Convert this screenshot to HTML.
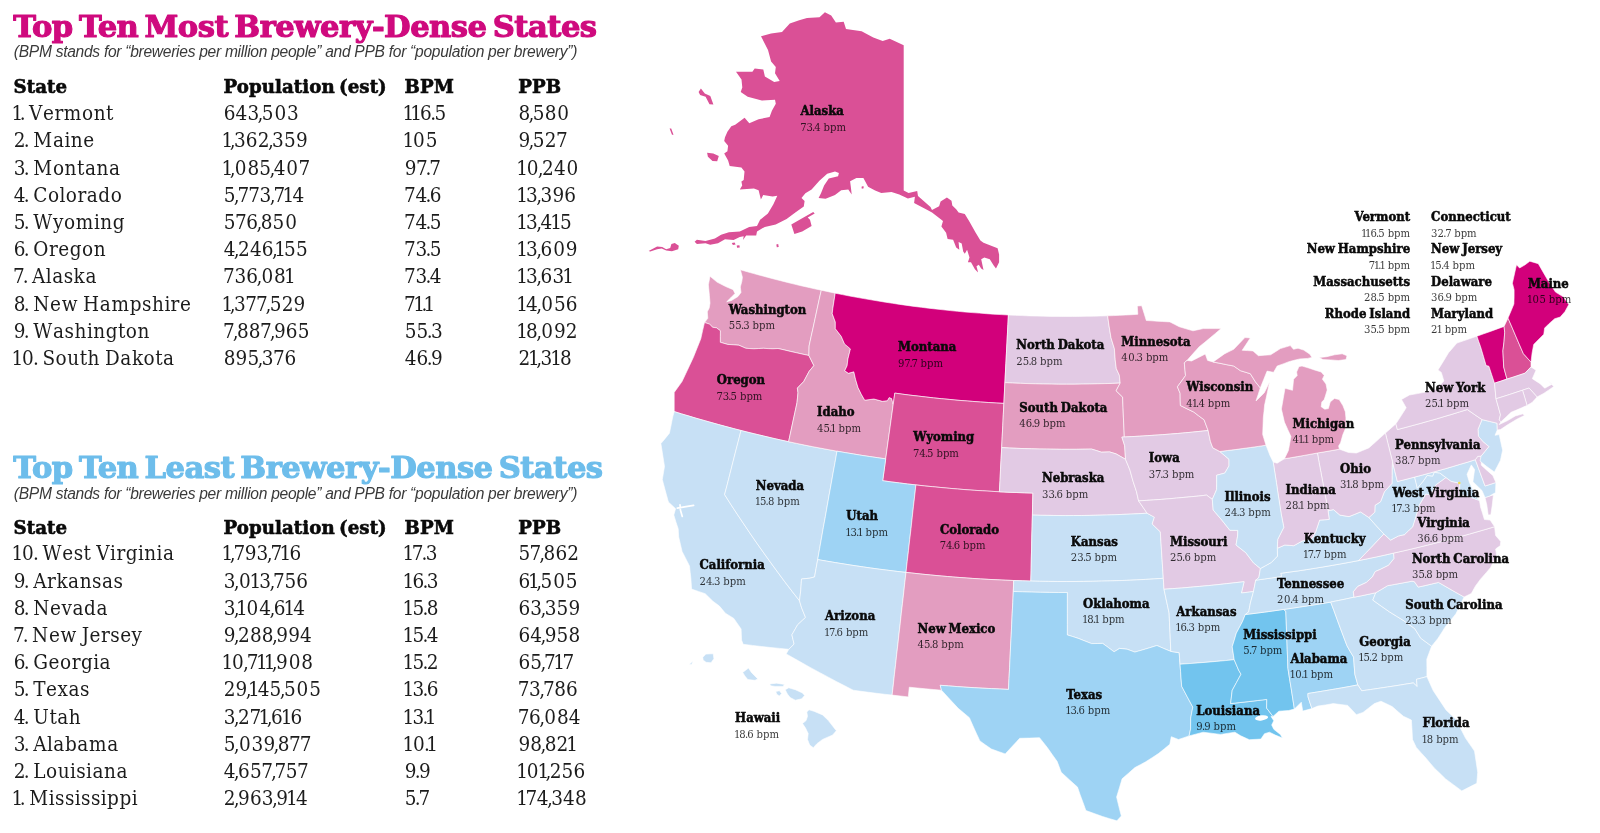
<!DOCTYPE html>
<html><head><meta charset="utf-8"><title>Brewery-Dense States</title><style>html,body{margin:0;padding:0;background:#fff}svg{display:block}
text{font-family:"DejaVu Serif Condensed","DejaVu Serif","Liberation Serif",serif;font-stretch:condensed;fill:#111}
.n{font-weight:bold;font-size:13px;word-spacing:-1.2px;fill:#0a0a0a;stroke:#0a0a0a;stroke-width:.5px}
.b{font-size:11.2px;fill:#000;fill-opacity:.78}
.t{font-family:"DejaVu Serif","Liberation Serif",serif;font-stretch:normal;font-weight:bold;font-size:30.6px;letter-spacing:-.5px;word-spacing:-4px;stroke-width:1.15px;stroke-linejoin:round}
.s{font-family:"Liberation Sans","DejaVu Sans",sans-serif;font-stretch:normal;font-style:italic;font-size:15.6px;letter-spacing:-.29px;fill:#3a3a3a}
.h{font-family:"DejaVu Serif","Liberation Serif",serif;font-stretch:normal;font-weight:bold;font-size:18.2px;letter-spacing:.05px;word-spacing:-2px;fill:#0a0a0a;stroke:#0a0a0a;stroke-width:.6px}
.r{font-size:20.5px;fill:#1c1c1c}</style></head><body>
<svg width="1600" height="833" viewBox="0 0 1600 833">
<defs><filter id="aa" x="0" y="0" width="1600" height="833" filterUnits="userSpaceOnUse" color-interpolation-filters="sRGB"><feColorMatrix type="saturate" values="1"/></filter></defs>
<rect width="1600" height="833" fill="#fff"/>
<g stroke="#fff" stroke-opacity=".6" stroke-width="1" stroke-linejoin="round">
<path d="M704.5,322.5L707.8,318.3L707.3,311.8L709.2,308.0L710.0,303.2L709.4,295.6L708.4,284.8L710.0,276.2L717.0,282.1L725.6,286.5L733.2,289.7L735.0,293.5L730.5,298.0L726.7,301.8L731.5,300.5L738.0,296.5L741.0,292.4L740.3,287.0L741.8,281.6L742.4,277.3L740.4,269.8L747.1,271.7L753.8,273.6L760.5,275.4L767.2,277.2L773.9,279.0L780.7,280.7L787.4,282.4L794.2,284.1L800.9,285.7L807.7,287.2L814.5,288.8L821.3,290.2L819.2,299.5L817.2,308.8L815.2,318.1L813.2,327.4L811.1,336.7L809.1,346.0L808.9,355.5L802.8,354.2L796.6,352.8L790.4,351.4L784.2,349.9L778.0,348.5L772.9,348.8L768.2,348.6L763.5,348.3L758.7,348.5L753.8,348.8L745.9,348.3L738.8,345.2L733.2,344.8L727.7,344.4L720.3,342.3L720.3,336.5L720.4,330.8L716.5,327.8L712.6,327.3L709.6,324.1Z" fill="#e39dc0"/>
<path d="M704.5,322.5L702.6,330.6L700.8,338.8L697.1,348.0L693.4,357.3L689.6,365.4L685.8,373.5L682.0,381.6L678.1,387.0L674.2,392.4L674.2,402.0L674.2,411.6L681.6,413.9L689.0,416.1L696.3,418.3L703.8,420.4L711.2,422.5L718.6,424.6L726.1,426.6L733.5,428.6L741.0,430.5L748.9,432.5L756.8,434.4L764.8,436.3L772.7,438.2L780.7,440.0L788.6,441.7L790.7,432.0L792.8,422.2L794.9,412.5L797.0,402.8L798.0,392.8L797.4,388.1L803.7,381.6L809.1,371.4L813.9,365.6L808.9,355.5L802.8,354.2L796.6,352.8L790.4,351.4L784.2,349.9L778.0,348.5L772.9,348.8L768.2,348.6L763.5,348.3L758.7,348.5L753.8,348.8L745.9,348.3L738.8,345.2L733.2,344.8L727.7,344.4L720.3,342.3L720.3,336.5L720.4,330.8L716.5,327.8L712.6,327.3L709.6,324.1Z" fill="#da5096"/>
<path d="M674.2,411.6L672.7,416.9L671.1,425.1L669.4,433.3L665.2,438.4L660.9,443.6L662.7,455.0L664.5,466.4L663.4,473.0L662.3,479.5L665.3,490.8L668.4,502.0L675.6,508.7L673.8,515.0L675.9,521.9L678.2,528.8L678.7,536.9L680.4,544.2L682.1,551.5L685.8,558.7L689.5,566.0L690.2,572.4L690.9,578.8L691.6,589.1L698.4,591.4L705.2,593.7L712.9,601.2L719.4,606.1L725.4,613.2L733.8,618.4L741.1,629.0L741.6,640.2L743.2,644.3L752.3,645.4L761.5,646.5L770.6,647.5L779.7,648.4L788.8,649.3L794.1,644.1L791.9,634.8L797.6,624.8L805.5,617.4L801.6,607.8L799.5,600.8L792.2,591.4L784.9,581.9L777.8,572.3L770.8,562.7L763.9,553.1L757.1,543.5L750.4,533.8L743.8,524.0L737.3,514.3L730.9,504.5L724.6,494.6L727.4,484.0L730.1,473.3L732.8,462.6L735.5,451.9L738.3,441.2L741.0,430.5L733.5,428.6L726.1,426.6L718.6,424.6L711.2,422.5L703.8,420.4L696.3,418.3L689.0,416.1L681.6,413.9Z" fill="#c7e0f5"/>
<path d="M741.0,430.5L748.9,432.5L756.8,434.4L764.8,436.3L772.7,438.2L780.7,440.0L788.6,441.7L796.7,443.4L804.7,445.1L812.8,446.7L820.8,448.2L828.9,449.7L837.0,451.2L835.1,462.1L833.1,472.9L831.2,483.8L829.2,494.7L827.3,505.5L825.4,516.4L823.4,527.2L821.5,538.0L819.6,548.8L817.7,559.6L816.1,568.3L814.6,576.9L809.8,578.2L801.5,579.0L800.8,589.9L799.5,600.8L792.2,591.4L784.9,581.9L777.8,572.3L770.8,562.7L763.9,553.1L757.1,543.5L750.4,533.8L743.8,524.0L737.3,514.3L730.9,504.5L724.6,494.6L727.4,484.0L730.1,473.3L732.8,462.6L735.5,451.9L738.3,441.2Z" fill="#c7e0f5"/>
<path d="M821.3,290.2L828.3,291.7L835.2,293.2L832.8,308.6L832.2,313.6L835.3,322.0L835.3,328.7L841.2,336.3L844.5,343.9L850.4,348.9L847.9,359.0L847.1,365.7L844.7,370.8L848.4,373.3L853.8,371.8L855.5,379.2L858.0,387.6L861.3,394.3L864.7,400.2L873.9,399.0L882.4,401.3L887.4,400.7L889.1,397.6L891.6,398.5L893.2,404.5L891.7,415.4L890.2,426.3L888.7,437.1L887.2,448.0L885.7,458.9L877.6,457.7L869.4,456.5L861.3,455.3L853.2,453.9L845.1,452.6L837.0,451.2L828.9,449.7L820.8,448.2L812.8,446.7L804.7,445.1L796.7,443.4L788.6,441.7L790.7,432.0L792.8,422.2L794.9,412.5L797.0,402.8L798.0,392.8L797.4,388.1L803.7,381.6L809.1,371.4L813.9,365.6L808.9,355.5L809.1,346.0L811.1,336.7L813.2,327.4L815.2,318.1L817.2,308.8L819.2,299.5Z" fill="#e39dc0"/>
<path d="M835.2,293.2L842.4,294.6L849.5,296.0L856.7,297.3L863.8,298.6L871.0,299.8L878.2,301.0L885.4,302.2L892.6,303.3L899.8,304.4L907.0,305.4L914.2,306.4L921.4,307.3L928.6,308.2L935.8,309.0L943.1,309.8L950.3,310.6L957.6,311.3L964.8,312.0L972.1,312.6L979.3,313.1L986.6,313.7L993.8,314.2L1001.1,314.6L1008.4,315.0L1007.9,324.6L1007.4,334.3L1006.9,343.9L1006.4,353.6L1005.9,363.3L1005.4,372.9L1004.9,382.6L1004.4,393.0L1003.9,403.4L996.1,403.0L988.3,402.5L980.4,402.0L972.6,401.4L964.8,400.8L957.0,400.2L949.2,399.4L941.4,398.7L933.7,397.9L925.9,397.0L918.1,396.1L910.3,395.2L902.6,394.2L894.8,393.1L894.0,398.8L893.2,404.5L891.6,398.5L889.1,397.6L887.4,400.7L882.4,401.3L873.9,399.0L864.7,400.2L861.3,394.3L858.0,387.6L855.5,379.2L853.8,371.8L848.4,373.3L844.7,370.8L847.1,365.7L847.9,359.0L850.4,348.9L844.5,343.9L841.2,336.3L835.3,328.7L835.3,322.0L832.2,313.6L832.8,308.6Z" fill="#d2007b"/>
<path d="M893.2,404.5L894.0,398.8L894.8,393.1L902.6,394.2L910.3,395.2L918.1,396.1L925.9,397.0L933.7,397.9L941.4,398.7L949.2,399.4L957.0,400.2L964.8,400.8L972.6,401.4L980.4,402.0L988.3,402.5L996.1,403.0L1003.9,403.4L1003.3,414.5L1002.8,425.5L1002.2,436.6L1001.7,447.6L1001.1,458.7L1000.5,469.7L1000.0,480.7L999.4,491.8L991.1,491.3L982.7,490.8L974.3,490.3L966.0,489.7L957.6,489.0L949.3,488.3L940.9,487.5L932.6,486.7L924.2,485.9L915.9,484.9L907.6,484.0L899.3,482.9L891.0,481.9L882.7,480.7L884.2,469.8L885.7,458.9L887.2,448.0L888.7,437.1L890.2,426.3L891.7,415.4Z" fill="#da5096"/>
<path d="M837.0,451.2L845.1,452.6L853.2,453.9L861.3,455.3L869.4,456.5L877.6,457.7L885.7,458.9L884.2,469.8L882.7,480.7L891.0,481.9L899.3,482.9L907.6,484.0L915.9,484.9L914.7,495.9L913.4,506.9L912.2,517.8L911.0,528.8L909.7,539.7L908.5,550.6L907.2,561.5L906.0,572.4L897.1,571.4L888.3,570.3L879.4,569.2L870.6,568.0L861.7,566.7L852.9,565.4L844.1,564.0L835.3,562.6L826.4,561.1L817.7,559.6L819.6,548.8L821.5,538.0L823.4,527.2L825.4,516.4L827.3,505.5L829.2,494.7L831.2,483.8L833.1,472.9L835.1,462.1Z" fill="#9ed3f4"/>
<path d="M915.9,484.9L924.2,485.9L932.6,486.7L940.9,487.5L949.3,488.3L957.6,489.0L966.0,489.7L974.3,490.3L982.7,490.8L991.1,491.3L999.4,491.8L1007.8,492.2L1016.2,492.5L1024.5,492.8L1032.9,493.1L1032.6,504.1L1032.4,515.1L1032.1,526.1L1031.8,537.1L1031.6,548.1L1031.3,559.1L1031.1,570.1L1030.8,581.1L1022.3,580.8L1013.7,580.5L1005.4,580.2L997.1,579.8L988.8,579.4L980.5,578.9L972.2,578.4L963.9,577.8L955.6,577.2L947.4,576.5L939.1,575.8L930.8,575.0L922.5,574.2L914.3,573.3L906.0,572.4L907.2,561.5L908.5,550.6L909.7,539.7L911.0,528.8L912.2,517.8L913.4,506.9L914.7,495.9Z" fill="#da5096"/>
<path d="M817.7,559.6L826.4,561.1L835.3,562.6L844.1,564.0L852.9,565.4L861.7,566.7L870.6,568.0L879.4,569.2L888.3,570.3L897.1,571.4L906.0,572.4L904.8,582.7L903.7,593.0L902.5,603.3L901.3,613.5L900.2,623.8L899.0,634.0L897.9,644.2L896.7,654.4L895.6,664.6L894.4,674.8L893.3,685.0L892.1,695.1L884.3,694.2L876.5,693.3L868.8,692.3L861.0,691.3L853.2,690.2L844.7,685.8L836.2,681.4L827.8,676.9L819.4,672.4L811.0,667.9L802.7,663.2L794.5,658.6L786.2,653.9L788.8,649.3L794.1,644.1L791.9,634.8L797.6,624.8L805.5,617.4L801.6,607.8L799.5,600.8L800.8,589.9L801.5,579.0L809.8,578.2L814.6,576.9L816.1,568.3Z" fill="#c7e0f5"/>
<path d="M906.0,572.4L914.3,573.3L922.5,574.2L930.8,575.0L939.1,575.8L947.4,576.5L955.6,577.2L963.9,577.8L972.2,578.4L980.5,578.9L988.8,579.4L997.1,579.8L1005.4,580.2L1013.7,580.5L1013.3,591.5L1012.8,602.4L1012.2,613.3L1011.7,624.3L1011.2,635.2L1010.6,646.0L1010.1,656.9L1009.6,667.7L1009.0,678.6L1008.5,689.4L999.9,689.0L991.4,688.6L982.9,688.2L974.3,687.7L965.8,687.2L957.3,686.6L948.7,685.9L940.2,685.3L941.5,690.2L933.5,689.5L925.4,688.8L917.3,688.0L909.3,687.2L908.3,696.9L900.2,696.0L892.1,695.1L893.3,685.0L894.4,674.8L895.6,664.6L896.7,654.4L897.9,644.2L899.0,634.0L900.2,623.8L901.3,613.5L902.5,603.3L903.7,593.0L904.8,582.7Z" fill="#e39dc0"/>
<path d="M1008.4,315.0L1015.4,315.3L1022.5,315.6L1029.6,315.9L1036.7,316.1L1043.8,316.2L1050.9,316.4L1058.0,316.4L1065.1,316.5L1072.2,316.5L1079.2,316.4L1086.3,316.3L1093.4,316.2L1100.5,316.0L1107.6,315.8L1109.2,326.8L1111.0,337.8L1114.4,348.7L1115.2,359.8L1116.3,368.6L1119.3,375.1L1120.2,383.1L1112.6,383.4L1104.9,383.6L1097.2,383.8L1089.5,384.0L1081.8,384.1L1074.1,384.2L1066.4,384.2L1058.7,384.2L1051.1,384.1L1043.4,384.0L1035.7,383.8L1028.0,383.6L1020.3,383.3L1012.6,383.0L1004.9,382.6L1005.4,372.9L1005.9,363.3L1006.4,353.6L1006.9,343.9L1007.4,334.3L1007.9,324.6Z" fill="#e2cae4"/>
<path d="M1004.9,382.6L1012.6,383.0L1020.3,383.3L1028.0,383.6L1035.7,383.8L1043.4,384.0L1051.1,384.1L1058.7,384.2L1066.4,384.2L1074.1,384.2L1081.8,384.1L1089.5,384.0L1097.2,383.8L1104.9,383.6L1112.6,383.4L1120.2,383.1L1116.1,390.8L1122.6,397.1L1123.0,407.1L1123.4,417.1L1123.9,427.0L1124.3,437.0L1121.9,437.1L1124.7,445.8L1125.1,452.5L1125.5,459.3L1120.8,456.6L1116.1,453.9L1109.5,451.9L1101.4,452.2L1096.5,450.6L1091.6,449.1L1084.1,449.2L1076.6,449.3L1069.1,449.3L1061.6,449.3L1054.1,449.2L1046.6,449.1L1039.1,449.0L1031.6,448.8L1024.1,448.6L1016.6,448.3L1009.1,448.0L1001.7,447.6L1002.2,436.6L1002.8,425.5L1003.3,414.5L1003.9,403.4L1004.4,393.0Z" fill="#e39dc0"/>
<path d="M1001.7,447.6L1009.1,448.0L1016.6,448.3L1024.1,448.6L1031.6,448.8L1039.1,449.0L1046.6,449.1L1054.1,449.2L1061.6,449.3L1069.1,449.3L1076.6,449.3L1084.1,449.2L1091.6,449.1L1096.5,450.6L1101.4,452.2L1109.5,451.9L1116.1,453.9L1120.8,456.6L1125.5,459.3L1129.9,469.9L1132.9,480.8L1136.5,491.7L1138.6,500.9L1142.9,507.1L1147.1,513.2L1138.9,513.7L1130.7,514.1L1122.6,514.4L1114.4,514.8L1106.2,515.0L1098.0,515.2L1089.8,515.4L1081.6,515.5L1073.4,515.5L1065.2,515.6L1057.0,515.5L1048.8,515.4L1040.6,515.3L1032.4,515.1L1032.6,504.1L1032.9,493.1L1024.5,492.8L1016.2,492.5L1007.8,492.2L999.4,491.8L1000.0,480.7L1000.5,469.7L1001.1,458.7Z" fill="#e2cae4"/>
<path d="M1032.4,515.1L1040.6,515.3L1048.8,515.4L1057.0,515.5L1065.2,515.6L1073.4,515.5L1081.6,515.5L1089.8,515.4L1098.0,515.2L1106.2,515.0L1114.4,514.8L1122.6,514.4L1130.7,514.1L1138.9,513.7L1147.1,513.2L1154.4,517.2L1152.2,524.0L1160.3,531.8L1160.9,541.1L1161.5,550.5L1162.1,559.8L1162.7,569.0L1163.3,578.3L1154.5,578.9L1145.6,579.4L1136.8,579.9L1128.0,580.3L1119.2,580.6L1110.3,580.9L1101.5,581.1L1092.7,581.3L1083.8,581.4L1075.0,581.5L1066.2,581.5L1057.3,581.5L1048.5,581.4L1039.7,581.3L1030.8,581.1L1031.1,570.1L1031.3,559.1L1031.6,548.1L1031.8,537.1L1032.1,526.1Z" fill="#c7e0f5"/>
<path d="M1030.8,581.1L1039.7,581.3L1048.5,581.4L1057.3,581.5L1066.2,581.5L1075.0,581.5L1083.8,581.4L1092.7,581.3L1101.5,581.1L1110.3,580.9L1119.2,580.6L1128.0,580.3L1136.8,579.9L1145.6,579.4L1154.5,578.9L1163.3,578.3L1164.0,589.3L1165.7,597.2L1167.4,605.1L1169.1,613.0L1169.5,622.6L1170.0,632.2L1170.4,641.8L1170.8,651.4L1163.8,648.5L1156.9,645.5L1149.6,647.8L1142.2,650.0L1134.8,652.1L1127.1,649.2L1119.6,648.4L1114.1,651.8L1108.4,647.6L1102.7,643.4L1097.1,643.5L1091.5,643.6L1084.9,641.0L1078.4,638.4L1072.8,636.6L1067.3,634.9L1067.3,624.3L1067.3,613.7L1067.3,603.1L1067.3,592.5L1058.3,592.5L1049.3,592.4L1040.3,592.3L1031.3,592.1L1022.3,591.8L1013.3,591.5L1013.7,580.5L1022.3,580.8Z" fill="#c7e0f5"/>
<path d="M1013.3,591.5L1022.3,591.8L1031.3,592.1L1040.3,592.3L1049.3,592.4L1058.3,592.5L1067.3,592.5L1067.3,603.1L1067.3,613.7L1067.3,624.3L1067.3,634.9L1072.8,636.6L1078.4,638.4L1084.9,641.0L1091.5,643.6L1097.1,643.5L1102.7,643.4L1108.4,647.6L1114.1,651.8L1119.6,648.4L1127.1,649.2L1134.8,652.1L1142.2,650.0L1149.6,647.8L1156.9,645.5L1163.8,648.5L1170.8,651.4L1179.2,652.7L1179.6,658.5L1180.0,664.2L1180.6,671.6L1181.1,678.9L1181.7,686.3L1187.2,696.7L1192.8,707.1L1190.7,718.1L1190.6,728.9L1189.1,735.9L1183.8,737.7L1178.5,739.5L1171.3,736.7L1169.8,744.3L1164.1,749.0L1158.4,753.6L1152.1,757.7L1145.7,761.8L1140.3,764.7L1134.9,767.6L1128.5,773.2L1122.1,778.8L1119.4,787.9L1116.6,797.1L1118.9,806.6L1121.3,816.0L1116.9,820.8L1109.7,818.7L1102.6,816.5L1094.2,813.5L1085.9,810.5L1083.1,802.7L1080.2,794.9L1077.5,787.1L1069.3,779.7L1061.2,772.2L1057.2,761.5L1052.2,754.5L1047.3,747.5L1039.5,737.7L1029.6,738.1L1019.7,738.3L1012.5,746.1L1005.2,753.9L998.3,751.5L991.4,749.0L985.6,745.0L979.9,740.9L976.3,733.2L972.8,725.5L969.4,717.7L963.8,713.0L958.2,708.3L949.8,699.3L941.5,690.2L940.2,685.3L948.7,685.9L957.3,686.6L965.8,687.2L974.3,687.7L982.9,688.2L991.4,688.6L999.9,689.0L1008.5,689.4L1009.0,678.6L1009.6,667.7L1010.1,656.9L1010.6,646.0L1011.2,635.2L1011.7,624.3L1012.2,613.3L1012.8,602.4Z" fill="#9ed3f4"/>
<path d="M1107.6,315.8L1113.6,315.6L1119.7,315.3L1125.7,315.0L1131.8,314.7L1137.8,314.3L1137.3,306.0L1141.7,305.7L1144.0,313.1L1146.3,320.5L1151.7,320.8L1157.1,321.2L1162.5,321.5L1169.9,321.9L1174.5,324.3L1179.2,326.7L1186.1,328.8L1193.0,330.8L1198.1,329.7L1203.2,328.6L1209.1,328.6L1215.1,328.6L1221.1,328.6L1215.7,333.2L1210.2,337.8L1204.8,342.3L1199.2,346.8L1193.1,353.6L1187.0,360.4L1184.3,362.8L1184.9,369.2L1185.5,375.6L1181.5,381.2L1177.4,386.8L1180.1,393.3L1180.2,399.4L1180.4,405.5L1187.0,408.8L1193.7,412.0L1198.8,415.9L1204.1,419.8L1208.1,430.5L1200.5,431.3L1192.9,432.1L1185.3,432.8L1177.7,433.5L1170.1,434.1L1162.5,434.7L1154.8,435.2L1147.2,435.7L1139.6,436.2L1131.9,436.6L1124.3,437.0L1123.9,427.0L1123.4,417.1L1123.0,407.1L1122.6,397.1L1116.1,390.8L1120.2,383.1L1119.3,375.1L1116.3,368.6L1115.2,359.8L1114.4,348.7L1111.0,337.8L1109.2,326.8Z" fill="#e39dc0"/>
<path d="M1124.3,437.0L1131.9,436.6L1139.6,436.2L1147.2,435.7L1154.8,435.2L1162.5,434.7L1170.1,434.1L1177.7,433.5L1185.3,432.8L1192.9,432.1L1200.5,431.3L1208.1,430.5L1210.4,441.4L1212.8,447.8L1219.8,451.5L1229.0,459.3L1229.0,465.9L1224.8,473.1L1216.7,475.2L1216.7,483.0L1216.6,489.6L1212.3,499.4L1206.5,495.1L1199.0,496.0L1191.5,496.7L1183.9,497.4L1176.4,498.1L1168.9,498.8L1161.3,499.4L1153.7,499.9L1146.2,500.4L1138.6,500.9L1136.5,491.7L1132.9,480.8L1129.9,469.9L1125.5,459.3L1125.1,452.5L1124.7,445.8L1121.9,437.1Z" fill="#e2cae4"/>
<path d="M1138.6,500.9L1146.2,500.4L1153.7,499.9L1161.3,499.4L1168.9,498.8L1176.4,498.1L1183.9,497.4L1191.5,496.7L1199.0,496.0L1206.5,495.1L1212.3,499.4L1213.2,510.0L1221.8,520.1L1229.9,530.3L1237.8,530.4L1237.6,536.0L1236.0,545.0L1245.8,552.7L1253.4,562.8L1260.4,568.5L1258.9,577.5L1255.7,580.2L1253.5,591.5L1247.5,592.3L1241.4,593.0L1244.1,581.7L1235.2,582.7L1226.3,583.7L1217.4,584.7L1208.5,585.6L1199.6,586.4L1190.7,587.2L1181.8,588.0L1172.9,588.6L1164.0,589.3L1163.3,578.3L1162.7,569.0L1162.1,559.8L1161.5,550.5L1160.9,541.1L1160.3,531.8L1152.2,524.0L1154.4,517.2L1147.1,513.2L1142.9,507.1Z" fill="#e2cae4"/>
<path d="M1164.0,589.3L1172.9,588.6L1181.8,588.0L1190.7,587.2L1199.6,586.4L1208.5,585.6L1217.4,584.7L1226.3,583.7L1235.2,582.7L1244.1,581.7L1241.4,593.0L1247.5,592.3L1253.5,591.5L1250.4,602.9L1248.7,611.9L1245.3,614.5L1242.5,621.5L1236.3,633.2L1234.3,640.0L1232.2,646.8L1233.2,653.2L1234.2,659.7L1225.2,660.6L1216.2,661.4L1207.1,662.2L1198.1,662.9L1189.1,663.6L1180.0,664.2L1179.6,658.5L1179.2,652.7L1170.8,651.4L1170.4,641.8L1170.0,632.2L1169.5,622.6L1169.1,613.0L1167.4,605.1L1165.7,597.2Z" fill="#c7e0f5"/>
<path d="M1180.0,664.2L1189.1,663.6L1198.1,662.9L1207.1,662.2L1216.2,661.4L1225.2,660.6L1234.2,659.7L1238.6,670.1L1241.0,674.2L1236.6,682.3L1232.2,690.4L1231.4,697.0L1230.6,703.6L1239.7,702.6L1248.7,701.6L1257.8,700.5L1266.8,699.4L1266.6,708.1L1273.0,716.4L1271.0,716.4L1273.8,720.7L1271.7,725.0L1273.8,729.3L1280.3,734.4L1282.5,738.0L1275.3,735.1L1269.5,732.2L1264.5,733.7L1260.9,739.1L1249.3,739.7L1240.7,735.8L1234.9,732.2L1220.5,734.4L1203.2,732.2L1189.1,735.9L1190.6,728.9L1190.7,718.1L1192.8,707.1L1187.2,696.7L1181.7,686.3L1181.1,678.9L1180.6,671.6Z" fill="#72c4ee"/>
<path d="M1245.3,614.5L1253.0,613.6L1260.7,612.6L1268.3,611.6L1276.0,610.5L1283.6,609.4L1285.8,611.3L1286.2,620.8L1286.5,630.3L1286.9,639.7L1287.2,649.2L1287.6,658.7L1287.9,668.1L1289.5,678.4L1291.2,688.6L1292.8,698.8L1294.4,709.1L1288.7,710.5L1278.9,711.2L1273.0,716.4L1266.6,708.1L1266.8,699.4L1257.8,700.5L1248.7,701.6L1239.7,702.6L1230.6,703.6L1231.4,697.0L1232.2,690.4L1236.6,682.3L1241.0,674.2L1238.6,670.1L1234.2,659.7L1233.2,653.2L1232.2,646.8L1234.3,640.0L1236.3,633.2L1242.5,621.5Z" fill="#72c4ee"/>
<path d="M1283.6,609.4L1291.5,608.3L1299.4,607.1L1307.2,605.9L1315.1,604.7L1322.9,603.4L1330.7,602.1L1334.0,610.8L1337.2,619.6L1340.4,628.3L1343.7,637.1L1347.0,645.8L1350.2,651.5L1353.6,657.1L1354.2,665.8L1354.9,674.5L1357.8,684.9L1349.5,686.5L1341.2,688.0L1332.9,689.4L1324.6,690.8L1316.2,692.2L1307.9,693.5L1308.0,696.8L1309.9,702.7L1311.9,708.6L1302.7,711.1L1301.3,702.2L1294.4,709.1L1292.8,698.8L1291.2,688.6L1289.5,678.4L1287.9,668.1L1287.6,658.7L1287.2,649.2L1286.9,639.7L1286.5,630.3L1286.2,620.8L1285.8,611.3Z" fill="#9ed3f4"/>
<path d="M1255.7,580.2L1264.3,579.0L1272.9,577.8L1281.5,576.5L1280.7,573.3L1289.3,572.1L1298.0,570.9L1306.7,569.6L1315.3,568.2L1324.0,566.8L1332.6,565.3L1341.2,563.8L1349.9,562.2L1358.5,560.6L1367.3,558.8L1376.1,557.0L1384.9,555.1L1393.6,553.1L1394.1,558.4L1388.6,565.3L1380.3,569.4L1375.2,571.6L1372.6,576.7L1366.3,582.5L1357.8,586.4L1353.3,591.8L1354.0,597.2L1346.3,598.9L1338.5,600.5L1330.7,602.1L1322.9,603.4L1315.1,604.7L1307.2,605.9L1299.4,607.1L1291.5,608.3L1283.6,609.4L1276.0,610.5L1268.3,611.6L1260.7,612.6L1253.0,613.6L1245.3,614.5L1248.7,611.9L1250.4,602.9L1253.5,591.5Z" fill="#c7e0f5"/>
<path d="M1260.4,568.5L1265.9,565.5L1271.3,562.5L1277.5,556.1L1277.3,548.3L1284.8,545.0L1293.8,545.7L1302.0,541.1L1307.1,539.6L1312.2,538.2L1315.6,532.0L1319.6,520.1L1324.4,519.8L1329.2,519.4L1328.1,510.7L1333.5,509.6L1339.9,515.1L1349.0,516.6L1354.8,514.3L1360.5,511.9L1368.9,517.5L1376.3,525.8L1383.9,534.0L1377.6,540.7L1371.3,547.4L1364.9,554.0L1358.5,560.6L1349.9,562.2L1341.2,563.8L1332.6,565.3L1324.0,566.8L1315.3,568.2L1306.7,569.6L1298.0,570.9L1289.3,572.1L1280.7,573.3L1281.5,576.5L1272.9,577.8L1264.3,579.0L1255.7,580.2L1258.9,577.5Z" fill="#c7e0f5"/>
<path d="M1330.7,602.1L1338.5,600.5L1346.3,598.9L1354.0,597.2L1361.3,595.8L1368.5,594.3L1375.8,592.7L1372.8,600.1L1381.2,606.1L1389.7,612.0L1396.3,616.1L1403.0,620.2L1414.7,628.6L1420.8,638.3L1431.6,646.2L1429.2,652.7L1426.8,659.2L1426.9,667.9L1426.9,676.6L1421.7,678.0L1416.5,679.3L1417.2,686.6L1413.3,682.9L1404.7,684.3L1396.1,685.7L1387.5,687.0L1378.9,688.3L1370.3,689.6L1361.7,690.8L1357.8,684.9L1354.9,674.5L1354.2,665.8L1353.6,657.1L1350.2,651.5L1347.0,645.8L1343.7,637.1L1340.4,628.3L1337.2,619.6L1334.0,610.8Z" fill="#c7e0f5"/>
<path d="M1426.9,676.6L1430.1,683.8L1433.3,690.8L1439.7,700.4L1446.0,709.9L1451.0,714.7L1456.1,719.5L1460.8,728.8L1465.5,738.1L1470.0,744.6L1474.5,751.1L1476.1,761.7L1477.7,772.2L1476.8,783.3L1469.3,787.1L1461.8,790.9L1453.7,784.9L1445.6,778.9L1440.1,773.6L1434.7,768.4L1430.4,763.4L1426.1,758.3L1421.2,752.9L1416.3,747.4L1412.5,739.5L1412.0,729.8L1411.4,720.0L1403.4,716.3L1397.8,711.5L1392.2,706.6L1381.0,701.2L1374.4,703.6L1368.7,708.0L1363.0,712.4L1356.4,714.7L1347.7,705.4L1340.5,704.5L1333.3,703.6L1325.6,704.9L1317.8,706.1L1311.9,708.6L1309.9,702.7L1308.0,696.8L1307.9,693.5L1316.2,692.2L1324.6,690.8L1332.9,689.4L1341.2,688.0L1349.5,686.5L1357.8,684.9L1361.7,690.8L1370.3,689.6L1378.9,688.3L1387.5,687.0L1396.1,685.7L1404.7,684.3L1413.3,682.9L1417.2,686.6L1416.5,679.3L1421.7,678.0Z" fill="#c7e0f5"/>
<path d="M1375.8,592.7L1381.7,589.2L1387.6,585.7L1395.8,584.2L1403.9,582.7L1412.0,581.2L1414.4,581.7L1418.2,587.1L1425.0,585.6L1431.7,584.0L1438.5,582.4L1447.0,587.3L1455.5,592.2L1464.1,597.0L1460.0,605.5L1455.8,613.9L1450.7,620.3L1445.4,626.7L1441.6,632.7L1437.7,638.7L1431.6,646.2L1420.8,638.3L1414.7,628.6L1403.0,620.2L1396.3,616.1L1389.7,612.0L1381.2,606.1L1372.8,600.1Z" fill="#c7e0f5"/>
<path d="M1393.6,553.1L1402.1,551.2L1410.6,549.2L1419.0,547.2L1427.5,545.1L1435.9,543.0L1444.4,540.8L1452.8,538.6L1461.2,536.3L1469.6,534.0L1477.9,531.6L1486.3,529.2L1494.6,526.7L1495.6,535.5L1500.7,541.4L1500.3,545.6L1495.6,549.0L1496.5,554.0L1493.9,560.8L1490.6,567.5L1486.4,572.5L1480.5,579.2L1475.5,586.0L1471.3,593.5L1464.1,597.0L1455.5,592.2L1447.0,587.3L1438.5,582.4L1431.7,584.0L1425.0,585.6L1418.2,587.1L1414.4,581.7L1412.0,581.2L1403.9,582.7L1395.8,584.2L1387.6,585.7L1381.7,589.2L1375.8,592.7L1368.5,594.3L1361.3,595.8L1354.0,597.2L1353.3,591.8L1357.8,586.4L1366.3,582.5L1372.6,576.7L1375.2,571.6L1380.3,569.4L1388.6,565.3L1394.1,558.4Z" fill="#e2cae4"/>
<path d="M1383.9,534.0L1390.6,540.1L1398.4,536.0L1404.5,534.6L1408.5,530.7L1412.6,526.9L1415.1,518.9L1417.6,510.9L1419.0,505.5L1422.4,499.8L1425.8,494.0L1430.2,494.8L1435.9,484.8L1440.9,481.2L1445.9,477.5L1451.1,481.3L1459.8,483.3L1459.5,494.8L1465.2,495.5L1472.3,497.9L1479.5,500.4L1480.5,506.9L1482.5,513.2L1484.4,519.5L1490.1,520.0L1494.6,526.7L1486.3,529.2L1477.9,531.6L1469.6,534.0L1461.2,536.3L1452.8,538.6L1444.4,540.8L1435.9,543.0L1427.5,545.1L1419.0,547.2L1410.6,549.2L1402.1,551.2L1393.6,553.1L1384.9,555.1L1376.1,557.0L1367.3,558.8L1358.5,560.6L1364.9,554.0L1371.3,547.4L1377.6,540.7ZM1485.0,497.5L1493.4,494.9L1492.2,505.6L1490.8,514.8L1488.2,514.9L1486.8,505.0Z" fill="#e2cae4"/>
<path d="M1368.9,517.5L1374.8,512.2L1375.0,505.3L1380.5,501.8L1384.3,491.9L1388.2,487.6L1392.0,483.3L1392.1,475.3L1392.1,467.3L1392.5,461.8L1394.9,471.6L1397.4,481.5L1403.1,480.1L1408.9,478.6L1414.6,477.1L1416.0,482.7L1417.3,488.2L1423.3,481.0L1427.1,475.4L1432.6,476.1L1434.2,472.3L1439.8,473.0L1445.9,477.5L1440.9,481.2L1435.9,484.8L1430.2,494.8L1425.8,494.0L1422.4,499.8L1419.0,505.5L1417.6,510.9L1415.1,518.9L1412.6,526.9L1408.5,530.7L1404.5,534.6L1398.4,536.0L1390.6,540.1L1383.9,534.0L1376.3,525.8Z" fill="#c7e0f5"/>
<path d="M1414.6,477.1L1422.2,475.1L1429.9,473.0L1437.5,470.9L1445.1,468.8L1452.6,466.6L1460.2,464.3L1467.8,462.1L1475.3,459.7L1478.6,468.5L1481.8,477.2L1485.1,486.0L1490.5,484.3L1495.9,482.5L1495.5,492.6L1489.2,496.2L1485.0,497.5L1481.9,490.4L1472.9,481.7L1474.6,469.6L1471.3,464.9L1467.0,474.3L1469.5,482.7L1474.4,492.7L1476.8,497.7L1479.5,500.4L1472.3,497.9L1465.2,495.5L1459.5,494.8L1459.8,483.3L1451.1,481.3L1445.9,477.5L1439.8,473.0L1434.2,472.3L1432.6,476.1L1427.1,475.4L1423.3,481.0L1417.3,488.2L1416.0,482.7Z" fill="#c7e0f5"/>
<path d="M1475.3,459.7L1477.7,456.4L1481.1,456.1L1481.3,465.2L1487.0,470.4L1492.8,475.5L1495.9,482.5L1490.5,484.3L1485.1,486.0L1481.8,477.2L1478.6,468.5Z" fill="#e2cae4"/>
<path d="M1482.0,419.6L1489.6,421.4L1497.1,423.2L1497.3,429.9L1495.0,435.3L1499.2,434.6L1500.9,442.4L1502.6,450.2L1500.5,460.2L1497.5,466.1L1494.4,472.0L1486.1,466.0L1480.0,461.0L1481.1,456.1L1485.0,451.3L1488.9,446.6L1482.8,441.6L1478.4,436.1L1478.0,429.3Z" fill="#c7e0f5"/>
<path d="M1385.4,433.1L1390.7,428.4L1395.9,423.8L1397.4,429.6L1405.2,427.5L1413.0,425.4L1420.8,423.3L1428.6,421.1L1436.4,418.9L1444.1,416.6L1451.9,414.3L1459.6,411.9L1467.3,409.5L1474.6,414.6L1482.0,419.6L1478.0,429.3L1478.4,436.1L1482.8,441.6L1488.9,446.6L1485.0,451.3L1481.1,456.1L1477.7,456.4L1475.3,459.7L1467.8,462.1L1460.2,464.3L1452.6,466.6L1445.1,468.8L1437.5,470.9L1429.9,473.0L1422.2,475.1L1414.6,477.1L1408.9,478.6L1403.1,480.1L1397.4,481.5L1394.9,471.6L1392.5,461.8L1390.1,452.2L1387.7,442.6Z" fill="#e2cae4"/>
<path d="M1395.9,423.8L1401.1,415.8L1406.2,407.8L1401.5,399.5L1405.5,397.2L1409.5,395.0L1417.4,393.6L1425.4,392.1L1430.8,390.6L1436.2,389.0L1440.1,384.9L1443.9,380.9L1441.3,372.4L1438.0,369.9L1443.3,361.4L1448.5,352.8L1452.7,347.9L1456.9,343.1L1463.6,340.8L1470.2,338.5L1476.9,336.2L1478.7,341.5L1480.6,346.8L1483.4,356.2L1486.1,365.5L1488.9,366.2L1491.7,374.7L1494.5,383.2L1495.3,391.0L1496.0,398.8L1498.3,406.8L1500.5,414.8L1499.2,419.9L1501.0,421.7L1499.2,424.6L1507.6,420.6L1515.3,416.0L1523.0,413.8L1524.3,415.5L1517.2,419.0L1507.6,424.8L1500.5,429.5L1497.3,429.9L1497.1,423.2L1489.6,421.4L1482.0,419.6L1474.6,414.6L1467.3,409.5L1459.6,411.9L1451.9,414.3L1444.1,416.6L1436.4,418.9L1428.6,421.1L1420.8,423.3L1413.0,425.4L1405.2,427.5L1397.4,429.6Z" fill="#e2cae4"/>
<path d="M1476.9,336.2L1483.7,333.8L1490.5,331.4L1497.3,328.9L1504.1,326.4L1504.7,332.4L1504.0,342.0L1502.9,350.7L1503.3,358.8L1503.7,366.9L1505.3,373.0L1507.0,379.1L1500.7,381.2L1494.5,383.2L1491.7,374.7L1488.9,366.2L1486.1,365.5L1483.4,356.2L1480.6,346.8L1478.7,341.5Z" fill="#d2007b"/>
<path d="M1504.1,326.4L1508.0,318.1L1511.9,327.0L1515.7,335.9L1519.5,344.8L1523.4,353.7L1531.0,362.2L1531.0,366.9L1525.0,373.2L1519.0,375.2L1513.0,377.2L1507.0,379.1L1505.3,373.0L1503.7,366.9L1503.3,358.8L1502.9,350.7L1504.0,342.0L1504.7,332.4Z" fill="#da5096"/>
<path d="M1508.0,318.1L1511.0,311.0L1513.9,304.0L1514.1,296.8L1514.1,289.7L1512.4,283.2L1516.5,264.8L1519.6,268.0L1525.1,264.8L1529.8,261.2L1538.3,263.7L1543.0,271.9L1549.3,282.8L1555.5,292.1L1563.3,296.8L1568.8,304.6L1564.9,311.7L1560.2,317.1L1554.7,318.7L1549.3,323.4L1544.6,328.1L1543.8,334.3L1538.3,339.8L1533.7,344.4L1532.1,353.0L1531.0,362.2L1523.4,353.7L1519.5,344.8L1515.7,335.9L1511.9,327.0Z" fill="#d2007b"/>
<path d="M1507.0,379.1L1513.0,377.2L1519.0,375.2L1525.0,373.2L1531.0,366.9L1536.0,370.2L1532.3,378.7L1540.4,383.9L1544.7,388.2L1552.0,384.2L1546.8,379.8L1553.8,386.5L1548.9,389.9L1544.0,393.2L1537.1,397.0L1533.1,392.5L1529.1,388.0L1522.5,390.2L1515.9,392.4L1509.3,394.6L1502.7,396.7L1496.0,398.8L1495.3,391.0L1494.5,383.2L1500.7,381.2Z" fill="#e2cae4"/>
<path d="M1522.5,390.2L1529.1,388.0L1533.1,392.5L1537.1,397.0L1532.3,402.3L1527.0,405.4L1524.8,397.8Z" fill="#e2cae4"/>
<path d="M1496.0,398.8L1502.7,396.7L1509.3,394.6L1515.9,392.4L1522.5,390.2L1524.8,397.8L1527.0,405.4L1521.7,407.8L1516.4,410.1L1511.1,412.3L1506.1,417.0L1501.0,421.7L1499.2,419.9L1500.5,414.8L1498.3,406.8Z" fill="#e2cae4"/>
<path d="M1339.4,449.2L1348.6,452.5L1356.4,453.0L1362.6,450.5L1368.8,447.9L1374.4,443.0L1379.9,438.0L1385.4,433.1L1387.7,442.6L1390.1,452.2L1392.5,461.8L1392.1,467.3L1392.1,475.3L1392.0,483.3L1388.2,487.6L1384.3,491.9L1380.5,501.8L1375.0,505.3L1374.8,512.2L1368.9,517.5L1360.5,511.9L1354.8,514.3L1349.0,516.6L1339.9,515.1L1333.5,509.6L1328.1,510.7L1326.3,501.1L1324.5,491.5L1322.7,481.8L1320.9,472.2L1319.1,462.6L1317.4,453.0L1324.7,451.8L1332.1,450.5Z" fill="#e2cae4"/>
<path d="M1273.2,462.0L1277.1,463.2L1284.4,458.8L1291.0,457.7L1297.6,456.6L1304.2,455.4L1310.8,454.2L1317.4,453.0L1319.1,462.6L1320.9,472.2L1322.7,481.8L1324.5,491.5L1326.3,501.1L1328.1,510.7L1329.2,519.4L1324.4,519.8L1319.6,520.1L1315.6,532.0L1312.2,538.2L1307.1,539.6L1302.0,541.1L1293.8,545.7L1284.8,545.0L1277.3,548.3L1277.7,539.4L1283.8,527.3L1282.4,520.3L1281.1,513.3L1279.5,503.0L1277.9,492.8L1276.4,482.5L1274.8,472.3Z" fill="#e2cae4"/>
<path d="M1266.0,445.2L1258.3,446.4L1250.6,447.5L1242.9,448.5L1235.2,449.6L1227.5,450.5L1219.8,451.5L1229.0,459.3L1229.0,465.9L1224.8,473.1L1216.7,475.2L1216.7,483.0L1216.6,489.6L1212.3,499.4L1213.2,510.0L1221.8,520.1L1229.9,530.3L1237.8,530.4L1237.6,536.0L1236.0,545.0L1245.8,552.7L1253.4,562.8L1260.4,568.5L1265.9,565.5L1271.3,562.5L1277.5,556.1L1277.3,548.3L1277.7,539.4L1283.8,527.3L1282.4,520.3L1281.1,513.3L1279.5,503.0L1277.9,492.8L1276.4,482.5L1274.8,472.3L1273.2,462.0L1270.1,455.8Z" fill="#c7e0f5"/>
<path d="M1187.0,360.4L1191.6,361.0L1198.5,357.5L1205.3,354.0L1207.6,360.4L1213.1,362.0L1220.0,363.3L1226.8,364.7L1233.7,366.0L1240.5,370.7L1245.4,372.2L1250.3,373.7L1255.5,381.9L1260.3,387.9L1258.2,394.4L1256.0,400.9L1260.1,396.9L1264.3,392.8L1269.6,381.9L1267.4,392.3L1266.0,398.7L1264.6,405.1L1264.0,411.4L1263.3,417.6L1263.0,426.1L1262.7,434.5L1266.0,445.2L1258.3,446.4L1250.6,447.5L1242.9,448.5L1235.2,449.6L1227.5,450.5L1219.8,451.5L1212.8,447.8L1210.4,441.4L1208.1,430.5L1204.1,419.8L1198.8,415.9L1193.7,412.0L1187.0,408.8L1180.4,405.5L1180.2,399.4L1180.1,393.3L1177.4,386.8L1181.5,381.2L1185.5,375.6L1184.9,369.2L1184.3,362.8Z" fill="#e39dc0"/>
<path d="M1213.1,362.0L1218.8,357.9L1224.4,353.9L1229.0,351.6L1233.7,349.3L1239.3,343.4L1244.9,337.6L1250.3,337.9L1246.3,344.1L1242.2,350.3L1247.6,350.6L1253.0,350.9L1258.4,355.7L1264.5,355.2L1270.6,354.8L1275.5,351.7L1280.4,348.6L1290.3,345.6L1293.5,349.3L1298.0,348.2L1303.7,350.1L1309.9,354.2L1311.9,357.4L1307.6,358.4L1299.9,358.9L1294.1,360.3L1288.9,361.7L1283.1,363.9L1277.2,366.0L1273.6,372.3L1267.1,371.1L1263.7,379.5L1260.3,387.9L1255.5,381.9L1250.3,373.7L1245.4,372.2L1240.5,370.7L1233.7,366.0L1226.8,364.7L1220.0,363.3ZM1339.4,449.2L1338.6,446.0L1340.5,442.9L1342.9,434.5L1346.0,427.3L1345.9,417.7L1345.3,411.7L1342.9,405.6L1339.2,399.6L1334.4,398.4L1330.2,402.0L1328.4,408.6L1324.8,409.2L1321.2,406.8L1321.8,402.0L1324.2,399.6L1325.4,396.0L1327.2,390.0L1326.0,384.0L1322.4,379.2L1324.2,375.6L1321.2,372.0L1315.2,370.2L1308.0,367.8L1302.0,366.0L1299.0,366.6L1296.6,372.0L1297.2,375.6L1293.6,379.2L1292.5,390.3L1285.0,388.3L1283.2,398.7L1281.4,409.1L1282.9,415.6L1284.4,422.1L1287.7,429.4L1291.0,436.6L1289.7,443.6L1288.4,450.6L1284.4,458.8L1291.0,457.7L1297.6,456.6L1304.2,455.4L1310.8,454.2L1317.4,453.0L1324.7,451.8L1332.1,450.5ZM1319.1,357.6L1326.8,356.7L1334.5,354.8L1342.2,353.8L1347.0,355.7L1346.0,359.6L1338.3,360.5L1330.6,359.9L1323.0,359.6Z" fill="#e39dc0"/>
<path d="M689.4,664.2L693.0,660.9L691.6,664.5ZM702.8,657.3L706.0,654.1L713.2,653.7L713.9,658.7L711.0,662.8L706.0,662.3L703.1,659.9ZM742.7,672.4L748.5,668.1L751.4,672.4L757.8,678.9L755.0,680.3L747.8,679.6L744.9,676.0ZM769.7,683.9L776.6,683.2L784.5,684.4L783.0,686.4L775.1,686.4L770.8,685.8ZM775.8,691.6L779.4,690.7L781.6,693.6L779.4,695.9L776.9,694.4ZM785.2,689.7L788.8,687.8L795.3,689.7L802.5,693.0L804.6,695.4L801.8,698.8L795.3,700.2L790.2,697.6L787.4,694.0ZM806.8,712.0L809.0,709.8L814.0,711.3L822.6,714.9L828.4,720.6L836.3,730.7L832.7,735.0L822.6,739.4L816.9,743.7L813.3,747.7L809.7,745.1L807.5,739.4L808.2,733.6L805.4,727.8L802.5,723.5L806.1,720.6L807.5,716.3Z" fill="#c7e0f5"/>
</g>
<path d="M903.7,45.2L889.7,38.7L882.7,40.9L873.3,37.4L861.6,31.2L846.0,28.9L843.7,21.8L835.9,22.6L831.2,15.6L824.9,12.2L819.5,17.2L807.0,17.9L799.2,20.3L789.8,23.4L782.0,32.0L771.1,33.5L761.0,36.2L768.0,49.9L771.1,61.6L775.8,67.1L775.0,73.3L779.7,81.1L774.2,81.9L764.9,76.4L763.3,69.4L754.7,68.6L752.4,71.8L736.0,71.8L741.5,79.6L742.3,87.4L740.7,92.0L747.7,96.7L761.8,100.6L775.0,99.8L775.8,103.7L771.9,110.8L769.6,117.0L758.6,119.3L749.3,123.2L744.6,117.8L735.2,124.8L731.3,126.2L727.4,131.7L725.0,137.2L724.2,141.1L728.1,145.7L727.4,151.2L724.2,153.5L728.1,160.6L729.7,166.0L741.4,167.6L744.5,171.5L743.7,180.1L741.4,181.6L742.2,185.5L739.8,189.4L753.9,188.6L758.6,190.2L760.9,199.6L763.2,194.9L772.6,196.4L777.3,195.7L773.4,204.2L767.9,213.6L760.1,219.8L757.0,226.1L749.2,226.9L739.8,231.5L728.9,232.3L721.1,234.7L714.9,238.6L705.5,240.9L696.9,239.8L694.6,241.7L696.9,244.0L705.5,243.2L710.2,244.8L718.0,243.2L725.0,239.3L733.6,240.1L739.8,237.0L743.7,236.2L743.0,240.1L746.1,235.4L756.2,235.4L757.0,231.5L764.8,226.9L775.7,224.5L786.6,219.1L796.0,212.0L803.8,206.6L804.6,201.1L801.5,198.0L805.4,193.3L811.6,189.4L819.4,180.8L827.2,173.8L835.0,171.5L838.9,173.0L838.1,176.2L828.8,178.5L824.1,185.5L821.0,193.3L818.6,198.0L825.6,198.8L835.0,194.9L841.2,190.2L848.3,189.4L851.7,194.5L850.9,187.4L850.1,181.2L856.4,178.1L863.4,178.1L868.1,186.7L875.1,190.6L881.3,192.9L891.5,192.1L899.3,194.5L907.9,198.4L914.9,196.8L914.1,203.0L927.4,210.1L932.0,212.4L939.8,218.6L943.0,221.0L941.4,226.4L946.1,232.7L947.6,238.9L953.1,239.7L956.2,247.5L959.3,249.8L958.6,242.0L961.7,243.6L963.2,251.4L964.8,253.7L967.1,249.8L969.5,257.6L967.9,262.3L971.0,262.3L974.9,269.3L978.1,272.5L976.5,266.2L978.8,264.7L981.2,268.6L983.5,270.1L981.2,259.2L984.3,257.6L989.8,259.2L993.7,265.4L996.0,268.6L999.1,262.3L999.1,254.5L997.6,248.3L983.5,242.8L980.4,240.5L975.7,232.7L969.5,221.8L964.8,214.0L958.6,212.4L956.2,209.3L952.3,205.4L951.5,200.7L946.9,197.6L940.6,201.5L939.1,206.2L932.0,210.1L930.5,206.9L918.0,196.0L917.2,190.9L908.6,192.9L903.7,190.6ZM698.6,92.0L700.9,88.6L704.8,93.6L710.3,95.9L713.4,104.5L709.5,104.2L705.6,96.7L700.1,94.9ZM707.1,152.8L713.3,153.5L718.8,155.9L717.2,161.3L712.5,160.9L707.9,156.7ZM669.6,128.6L671.2,128.6L673.5,134.8L672.0,134.8ZM791.3,224.5L802.2,218.3L813.2,212.0L814.7,213.6L807.7,217.5L810.0,219.8L811.6,226.1L802.2,231.5L794.4,233.9ZM861.5,186.7L863.4,185.9L863.7,188.2L861.8,188.7ZM648.6,250.9L657.1,246.4L662.2,246.9L666.2,249.2L670.2,248.1L671.4,244.1L674.8,242.9L678.8,245.8L678.2,249.2L671.9,251.3L666.2,250.6L661.7,248.6L657.1,249.2L650.3,251.5ZM731.8,242.9L734.6,242.4L735.6,244.4L732.9,244.9ZM736.7,245.6L739.4,245.2L739.8,247.5L737.1,247.8ZM776.3,244.4L778.2,244.1L778.7,246.9L776.8,247.2Z" fill="#da5096"/>
<path d="M677.3,508.2L686,506.6L693.6,505.4M680,504.8L680.4,510L682.3,516.5" fill="none" stroke="#fff" stroke-width="1.7" stroke-linecap="round" stroke-linejoin="round"/>
<circle cx="1459.3" cy="483" r="1.3" fill="#f3df55"/>
<ellipse cx="1261.6" cy="717.9" rx="6.6" ry="2.6" fill="#fff" transform="rotate(-8 1261.6 717.9)"/>
<g filter="url(#aa)">
<text class="n" x="800.5" y="115.2">Alaska</text><text class="b" x="800.2 806.4 811.9 814.3 820.6 823.6 830.1 836.5" y="130.6">73.4 bpm</text>
<text class="n" x="735.1" y="722.2">Hawaii</text><text class="b" x="734.0 739.3 744.9 747.2 753.5 756.6 763.0 769.5" y="737.6">18.6 bpm</text>
<text class="n" x="728.8" y="313.8">Washington</text><text class="b" x="728.8 735.3 740.9 743.2 749.5 752.6 759.0 765.5" y="329.2">55.3 bpm</text>
<text class="n" x="716.8" y="384.3">Oregon</text><text class="b" x="716.5 722.7 728.2 730.6 736.9 739.9 746.4 752.8" y="399.7">73.5 bpm</text>
<text class="n" x="817.0" y="416.3">Idaho</text><text class="b" x="817.0 823.5 829.1 830.3 835.4 838.5 844.9 851.4" y="431.7">45.1 bpm</text>
<text class="n" x="898.0" y="351.2">Montana</text><text class="b" x="898.0 904.2 909.4 911.5 917.4 920.5 926.9 933.4" y="366.6">97.7 bpm</text>
<text class="n" x="913.3" y="441.3">Wyoming</text><text class="b" x="913.0 919.2 924.7 927.1 933.4 936.4 942.9 949.3" y="456.7">74.5 bpm</text>
<text class="n" x="1016.3" y="349.3">North Dakota</text><text class="b" x="1016.3 1022.8 1028.4 1030.7 1037.0 1040.1 1046.5 1053.0" y="364.7">25.8 bpm</text>
<text class="n" x="1019.3" y="411.8">South Dakota</text><text class="b" x="1019.3 1025.8 1031.4 1033.7 1040.0 1043.1 1049.5 1056.0" y="427.2">46.9 bpm</text>
<text class="n" x="755.8" y="489.5">Nevada</text><text class="b" x="754.7 760.0 765.6 767.9 774.2 777.3 783.7 790.2" y="504.9">15.8 bpm</text>
<text class="n" x="846.3" y="520.3">Utah</text><text class="b" x="845.2 850.5 856.1 857.3 862.5 865.5 872.0 878.4" y="535.7">13.1 bpm</text>
<text class="n" x="699.5" y="569.3">California</text><text class="b" x="699.5 706.0 711.6 713.9 720.2 723.3 729.7 736.2" y="584.7">24.3 bpm</text>
<text class="n" x="940.0" y="533.5">Colorado</text><text class="b" x="939.7 945.9 951.4 953.8 960.1 963.1 969.6 976.0" y="548.9">74.6 bpm</text>
<text class="n" x="825.0" y="620.3">Arizona</text><text class="b" x="823.9 828.9 834.2 836.5 842.8 845.9 852.3 858.7" y="635.7">17.6 bpm</text>
<text class="n" x="917.5" y="632.8">New Mexico</text><text class="b" x="917.5 924.0 929.6 931.9 938.2 941.3 947.7 954.2" y="648.2">45.8 bpm</text>
<text class="n" x="1042.0" y="482.3">Nebraska</text><text class="b" x="1042.0 1048.5 1054.1 1056.4 1062.7 1065.8 1072.2 1078.7" y="497.7">33.6 bpm</text>
<text class="n" x="1066.3" y="698.8">Texas</text><text class="b" x="1065.2 1070.5 1076.1 1078.4 1084.7 1087.8 1094.2 1100.7" y="714.2">13.6 bpm</text>
<text class="n" x="1196.3" y="714.8">Louisiana</text><text class="b" x="1196.3 1201.9 1204.2 1210.5 1213.6 1220.0 1226.5" y="730.2">9.9 bpm</text>
<text class="n" x="1243.3" y="638.7">Mississippi</text><text class="b" x="1243.3 1248.9 1250.9 1256.9 1259.9 1266.4 1272.8" y="654.1">5.7 bpm</text>
<text class="n" x="1148.8" y="462.3">Iowa</text><text class="b" x="1148.8 1155.0 1160.2 1162.6 1168.9 1171.9 1178.4 1184.8" y="477.7">37.3 bpm</text>
<text class="n" x="1224.5" y="500.5">Illinois</text><text class="b" x="1224.5 1231.0 1236.6 1238.9 1245.2 1248.3 1254.7 1261.2" y="515.9">24.3 bpm</text>
<text class="n" x="1285.5" y="493.5">Indiana</text><text class="b" x="1285.5 1292.0 1297.6 1298.8 1303.9 1307.0 1313.4 1319.9" y="508.9">28.1 bpm</text>
<text class="n" x="1340.1" y="472.8">Ohio</text><text class="b" x="1340.1 1345.5 1349.9 1352.2 1358.5 1361.6 1368.0 1374.5" y="488.2">31.8 bpm</text>
<text class="n" x="1070.8" y="545.5">Kansas</text><text class="b" x="1070.8 1077.3 1082.9 1085.2 1091.5 1094.6 1101.0 1107.5" y="560.9">23.5 bpm</text>
<text class="n" x="1170.0" y="545.5">Missouri</text><text class="b" x="1170.0 1176.5 1182.1 1184.4 1190.7 1193.8 1200.2 1206.7" y="560.9">25.6 bpm</text>
<text class="n" x="1303.8" y="543.0">Kentucky</text><text class="b" x="1302.7 1307.7 1313.0 1315.0 1321.0 1324.0 1330.5 1336.9" y="558.4">17.7 bpm</text>
<text class="n" x="1277.0" y="588.0">Tennessee</text><text class="b" x="1277.0 1283.9 1289.9 1292.3 1298.6 1301.6 1308.0 1314.5" y="603.4">20.4 bpm</text>
<text class="n" x="1083.0" y="608.0">Oklahoma</text><text class="b" x="1081.9 1087.2 1092.8 1094.0 1099.2 1102.2 1108.7 1115.1" y="623.4">18.1 bpm</text>
<text class="n" x="1176.3" y="615.5">Arkansas</text><text class="b" x="1175.2 1180.5 1186.1 1188.4 1194.7 1197.8 1204.2 1210.7" y="630.9">16.3 bpm</text>
<text class="n" x="1359.3" y="645.5">Georgia</text><text class="b" x="1358.2 1363.5 1369.1 1371.4 1377.7 1380.8 1387.2 1393.7" y="660.9">15.2 bpm</text>
<text class="n" x="1290.6" y="662.8">Alabama</text><text class="b" x="1289.5 1295.3 1301.2 1302.4 1307.6 1310.7 1317.1 1323.6" y="678.2">10.1 bpm</text>
<text class="n" x="1422.6" y="727.2">Florida</text><text class="b" x="1421.5 1426.8 1433.1 1436.2 1442.6 1449.1" y="742.6">18 bpm</text>
<text class="n" x="1405.2" y="608.7">South Carolina</text><text class="b" x="1405.2 1411.7 1417.3 1419.6 1425.9 1429.0 1435.4 1441.9" y="624.1">23.3 bpm</text>
<text class="n" x="1411.9" y="562.7">North Carolina</text><text class="b" x="1411.9 1418.4 1424.0 1426.3 1432.6 1435.7 1442.1 1448.6" y="578.1">35.8 bpm</text>
<text class="n" x="1417.3" y="526.6">Virginia</text><text class="b" x="1417.3 1423.8 1429.4 1431.7 1438.0 1441.1 1447.5 1454.0" y="542.0">36.6 bpm</text>
<text class="n" x="1392.4" y="496.9">West Virginia</text><text class="b" x="1391.3 1396.3 1401.6 1403.9 1410.2 1413.3 1419.7 1426.1" y="512.3">17.3 bpm</text>
<text class="n" x="1395.0" y="448.5">Pennsylvania</text><text class="b" x="1395.0 1401.5 1407.1 1409.1 1415.1 1418.1 1424.6 1431.0" y="463.9">38.7 bpm</text>
<text class="n" x="1425.0" y="391.8">New York</text><text class="b" x="1425.0 1431.5 1437.1 1438.3 1443.4 1446.5 1452.9 1459.4" y="407.2">25.1 bpm</text>
<text class="n" x="1121.3" y="345.5">Minnesota</text><text class="b" x="1121.3 1128.2 1134.2 1136.6 1142.9 1145.9 1152.3 1158.8" y="360.9">40.3 bpm</text>
<text class="n" x="1186.3" y="391.3">Wisconsin</text><text class="b" x="1186.3 1191.7 1196.1 1198.4 1204.7 1207.8 1214.2 1220.7" y="406.7">41.4 bpm</text>
<text class="n" x="1292.5" y="427.5">Michigan</text><text class="b" x="1292.5 1297.9 1302.3 1303.5 1308.7 1311.7 1318.2 1324.6" y="442.9">41.1 bpm</text>
<text class="n" x="1527.9" y="287.5">Maine</text><text class="b" x="1526.8 1532.6 1539.5 1545.8 1548.8 1555.3 1561.7" y="302.9">105 bpm</text>
<text class="n" x="1410.1" y="221.1" text-anchor="end">Vermont</text><text class="b" x="1360.9 1365.1 1370.4 1376.0 1378.3 1384.6 1387.7 1394.1 1400.5" y="236.5">116.5 bpm</text>
<text class="n" x="1410.1" y="253.3" text-anchor="end">New Hampshire</text><text class="b" x="1368.8 1373.8 1378.2 1379.4 1384.6 1387.7 1394.1 1400.5" y="268.7">71.1 bpm</text>
<text class="n" x="1410.1" y="285.6" text-anchor="end">Massachusetts</text><text class="b" x="1363.9 1370.4 1376.0 1378.3 1384.6 1387.7 1394.1 1400.5" y="301.0">28.5 bpm</text>
<text class="n" x="1410.1" y="317.9" text-anchor="end">Rhode Island</text><text class="b" x="1363.9 1370.4 1376.0 1378.3 1384.6 1387.7 1394.1 1400.5" y="333.3">35.5 bpm</text>
<text class="n" x="1431.1" y="221.1">Connecticut</text><text class="b" x="1431.1 1437.6 1443.2 1445.2 1451.2 1454.2 1460.7 1467.1" y="236.5">32.7 bpm</text>
<text class="n" x="1431.1" y="253.3">New Jersey</text><text class="b" x="1430.0 1435.3 1440.9 1443.2 1449.5 1452.6 1459.0 1465.5" y="268.7">15.4 bpm</text>
<text class="n" x="1431.1" y="285.6">Delaware</text><text class="b" x="1431.1 1437.6 1443.2 1445.5 1451.8 1454.9 1461.3 1467.8" y="301.0">36.9 bpm</text>
<text class="n" x="1431.1" y="317.9">Maryland</text><text class="b" x="1431.1 1436.5 1441.6 1444.7 1451.1 1457.6" y="333.3">21 bpm</text>
</g>
<g filter="url(#aa)">
<text class="t" x="13.2" y="36.6" style="fill:#cf0a7e;stroke:#cf0a7e">Top Ten Most Brewery-Dense States</text>
<text class="s" x="13.8" y="57.2">(BPM stands for “breweries per million people” and PPB for “population per brewery”)</text>
<text class="h" x="13.6" y="93.0">State</text>
<text class="h" x="223.6" y="93.0">Population (est)</text>
<text class="h" x="404.6" y="93.0">BPM</text>
<text class="h" x="518.3" y="93.0">PPB</text>
<text class="r" x="11.6 19.7 23.4 29.0 43.0 54.4 63.8 82.0 93.7 106.1" y="120.0">1. Vermont</text>
<text class="r" x="223.7 235.5 247.4 257.6 261.8 274.5 287.1" y="120.0">643,503</text>
<text class="r" x="402.6 410.3 420.1 430.2 434.5" y="120.0">116.5</text>
<text class="r" x="518.4 528.5 532.8 544.7 557.3" y="120.0">8,580</text>
<text class="r" x="13.7 23.8 27.5 33.3 53.0 64.4 70.7 83.2" y="147.2">2. Maine</text>
<text class="r" x="221.6 229.7 234.0 245.8 257.7 267.9 272.1 284.0 295.9" y="147.2">1,362,359</text>
<text class="r" x="402.6 413.1 425.8" y="147.2">105</text>
<text class="r" x="518.4 528.5 532.8 544.7 556.0" y="147.2">9,527</text>
<text class="r" x="13.7 23.8 27.5 33.3 53.0 64.6 77.0 84.9 96.4 108.9" y="174.5">3. Montana</text>
<text class="r" x="221.6 229.7 234.7 247.4 259.2 269.4 273.7 286.3 298.4" y="174.5">1,085,407</text>
<text class="r" x="404.7 415.9 425.5 429.2" y="174.5">97.7</text>
<text class="r" x="516.3 526.8 537.8 542.1 553.9 566.6" y="174.5">10,240</text>
<text class="r" x="13.7 23.8 27.5 33.2 48.0 59.5 65.8 77.4 86.7 98.3 110.7" y="201.7">4. Colorado</text>
<text class="r" x="223.7 233.8 237.5 248.2 259.5 269.7 273.4 282.6 292.4" y="201.7">5,773,714</text>
<text class="r" x="404.1 415.4 425.5 429.8" y="201.7">74.6</text>
<text class="r" x="516.3 526.1 536.2 540.5 552.4 564.2" y="201.7">13,396</text>
<text class="r" x="13.7 23.8 27.5 33.3 53.0 64.0 75.8 93.9 100.2 112.7" y="228.9">5. Wyoming</text>
<text class="r" x="223.7 234.9 246.2 256.4 260.7 272.5 285.2" y="228.9">576,850</text>
<text class="r" x="404.1 415.4 425.5 429.8" y="228.9">74.5</text>
<text class="r" x="516.3 526.1 536.2 540.5 550.3 560.1" y="228.9">13,415</text>
<text class="r" x="13.7 23.8 27.5 33.2 49.0 58.3 69.8 82.1 93.8" y="256.1">6. Oregon</text>
<text class="r" x="223.7 233.8 238.1 250.0 261.8 272.0 274.2 284.0 295.9" y="256.1">4,246,155</text>
<text class="r" x="404.1 415.4 425.5 429.8" y="256.1">73.5</text>
<text class="r" x="516.3 526.1 536.2 540.5 553.2 565.8" y="256.1">13,609</text>
<text class="r" x="13.1 22.7 26.4 32.0 45.8 52.2 63.7 73.6 85.4" y="283.4">7. Alaska</text>
<text class="r" x="223.1 234.4 246.2 256.4 261.5 274.1 283.9" y="283.4">736,081</text>
<text class="r" x="404.1 415.4 425.5 429.8" y="283.4">73.4</text>
<text class="r" x="516.3 526.1 536.2 540.5 552.4 562.2" y="283.4">13,631</text>
<text class="r" x="13.7 23.8 27.5 33.3 50.1 61.7 77.3 83.0 99.8 111.5 129.7 142.1 152.0 164.4 170.6 179.9" y="310.6">8. New Hampshire</text>
<text class="r" x="221.6 229.7 234.0 245.2 255.9 265.5 269.8 281.7 293.5" y="310.6">1,377,529</text>
<text class="r" x="404.1 413.3 421.4 423.6" y="310.6">71.1</text>
<text class="r" x="516.3 526.1 536.2 541.3 553.9 565.8" y="310.6">14,056</text>
<text class="r" x="13.7 23.8 27.5 33.3 53.0 64.5 74.5 86.9 93.2 105.7 118.0 125.8 137.5" y="337.8">9. Washington</text>
<text class="r" x="223.1 232.7 237.0 248.8 260.1 269.7 274.0 285.8 297.7" y="337.8">7,887,965</text>
<text class="r" x="404.7 416.5 426.7 431.0" y="337.8">55.3</text>
<text class="r" x="516.3 526.1 536.2 541.3 553.9 565.8" y="337.8">18,092</text>
<text class="r" x="11.6 22.1 33.1 36.8 42.4 55.6 67.3 79.7 87.6 99.2 104.9 120.3 131.9 143.6 155.2 163.1" y="365.1">10. South Dakota</text>
<text class="r" x="223.7 235.5 247.4 257.6 261.8 273.1 284.4" y="365.1">895,376</text>
<text class="r" x="404.7 416.5 426.7 431.0" y="365.1">46.9</text>
<text class="r" x="518.4 528.1 536.2 540.5 550.3 560.1" y="365.1">21,318</text>
<text class="t" x="13.2" y="478.0" style="fill:#6dbdeb;stroke:#6dbdeb">Top Ten Least Brewery-Dense States</text>
<text class="s" x="13.8" y="498.6">(BPM stands for “breweries per million people” and PPB for “population per brewery”)</text>
<text class="h" x="13.6" y="533.6">State</text>
<text class="h" x="223.6" y="533.6">Population (est)</text>
<text class="h" x="404.6" y="533.6">BPM</text>
<text class="h" x="518.3" y="533.6">PPB</text>
<text class="r" x="11.6 22.1 33.1 36.8 42.6 62.3 73.7 83.6 90.6 96.3 110.1 116.4 125.7 138.0 144.3 156.6 162.9" y="560.3">10. West Virginia</text>
<text class="r" x="221.6 229.7 233.4 244.7 256.5 266.7 270.4 279.6 289.4" y="560.3">1,793,716</text>
<text class="r" x="402.6 411.8 421.4 425.7" y="560.3">17.3</text>
<text class="r" x="518.4 529.6 539.2 543.5 555.4 567.2" y="560.3">57,862</text>
<text class="r" x="13.7 23.8 27.5 33.2 47.1 56.4 68.1 79.7 92.1 102.1 113.6" y="587.5">9. Arkansas</text>
<text class="r" x="223.7 233.8 238.9 249.4 259.2 269.4 273.1 284.4 296.2" y="587.5">3,013,756</text>
<text class="r" x="402.6 412.4 422.5 426.8" y="587.5">16.3</text>
<text class="r" x="518.4 528.1 536.2 540.5 553.2 565.8" y="587.5">61,505</text>
<text class="r" x="13.7 23.8 27.5 33.3 50.1 61.5 72.5 84.0 96.4" y="614.8">8. Nevada</text>
<text class="r" x="223.7 233.8 236.0 246.6 259.2 269.4 273.7 283.5 293.2" y="614.8">3,104,614</text>
<text class="r" x="402.6 412.4 422.5 426.8" y="614.8">15.8</text>
<text class="r" x="518.4 530.2 540.4 544.7 556.5 568.4" y="614.8">63,359</text>
<text class="r" x="13.1 22.7 26.4 32.1 48.9 60.5 76.1 81.7 89.5 100.9 110.2 120.2 131.6" y="642.0">7. New Jersey</text>
<text class="r" x="223.7 233.8 238.1 250.0 261.8 272.0 276.3 288.2 300.0" y="642.0">9,288,994</text>
<text class="r" x="402.6 412.4 422.5 426.8" y="642.0">15.4</text>
<text class="r" x="518.4 530.2 540.4 544.7 556.5 568.4" y="642.0">64,958</text>
<text class="r" x="13.7 23.8 27.5 33.2 48.6 60.1 71.7 81.0 93.2 99.6" y="669.2">6. Georgia</text>
<text class="r" x="221.6 232.1 243.1 246.8 256.0 263.7 271.8 276.1 288.7 301.3" y="669.2">10,711,908</text>
<text class="r" x="402.6 412.4 422.5 426.8" y="669.2">15.2</text>
<text class="r" x="518.4 530.2 540.4 544.1 553.3 562.5" y="669.2">65,717</text>
<text class="r" x="13.7 23.8 27.5 33.2 46.0 57.5 68.4 79.9" y="696.4">5. Texas</text>
<text class="r" x="223.7 235.5 245.7 247.9 257.7 269.5 279.7 284.0 296.6 309.3" y="696.4">29,145,505</text>
<text class="r" x="402.6 412.4 422.5 426.8" y="696.4">13.6</text>
<text class="r" x="517.8 529.1 539.2 542.9 554.2 566.1" y="696.4">73,786</text>
<text class="r" x="13.7 23.8 27.5 33.2 49.4 57.2 68.8" y="723.7">4. Utah</text>
<text class="r" x="223.7 233.8 238.1 249.4 258.6 266.7 271.0 280.8 290.5" y="723.7">3,271,616</text>
<text class="r" x="402.6 412.4 422.5 424.7" y="723.7">13.1</text>
<text class="r" x="517.8 529.1 539.2 544.3 556.9 568.8" y="723.7">76,084</text>
<text class="r" x="13.7 23.8 27.5 33.2 47.0 53.3 64.9 77.2 89.0 107.2" y="750.9">3. Alabama</text>
<text class="r" x="223.7 233.8 238.9 251.5 263.4 273.6 277.8 289.1 299.8" y="750.9">5,039,877</text>
<text class="r" x="402.6 413.1 424.1 426.3" y="750.9">10.1</text>
<text class="r" x="518.4 530.2 540.4 544.7 556.5 566.3" y="750.9">98,821</text>
<text class="r" x="13.7 23.8 27.5 33.2 46.0 57.7 70.0 76.3 86.1 92.4 104.0 116.5" y="778.1">2. Louisiana</text>
<text class="r" x="223.7 233.8 238.1 250.0 261.3 270.9 274.6 285.8 297.1" y="778.1">4,657,757</text>
<text class="r" x="404.7 414.8 419.1" y="778.1">9.9</text>
<text class="r" x="516.3 526.8 537.4 545.5 549.8 561.6 573.5" y="778.1">101,256</text>
<text class="r" x="11.6 19.7 23.4 29.2 48.7 55.0 64.9 74.7 81.0 90.9 100.8 107.1 119.5 131.8" y="805.4">1. Mississippi</text>
<text class="r" x="223.7 233.8 238.1 250.0 261.8 272.0 276.3 286.1 295.9" y="805.4">2,963,914</text>
<text class="r" x="404.7 414.8 418.5" y="805.4">5.7</text>
<text class="r" x="516.3 525.5 536.8 546.9 551.2 563.1 574.9" y="805.4">174,348</text>
</g>
</svg></body></html>
